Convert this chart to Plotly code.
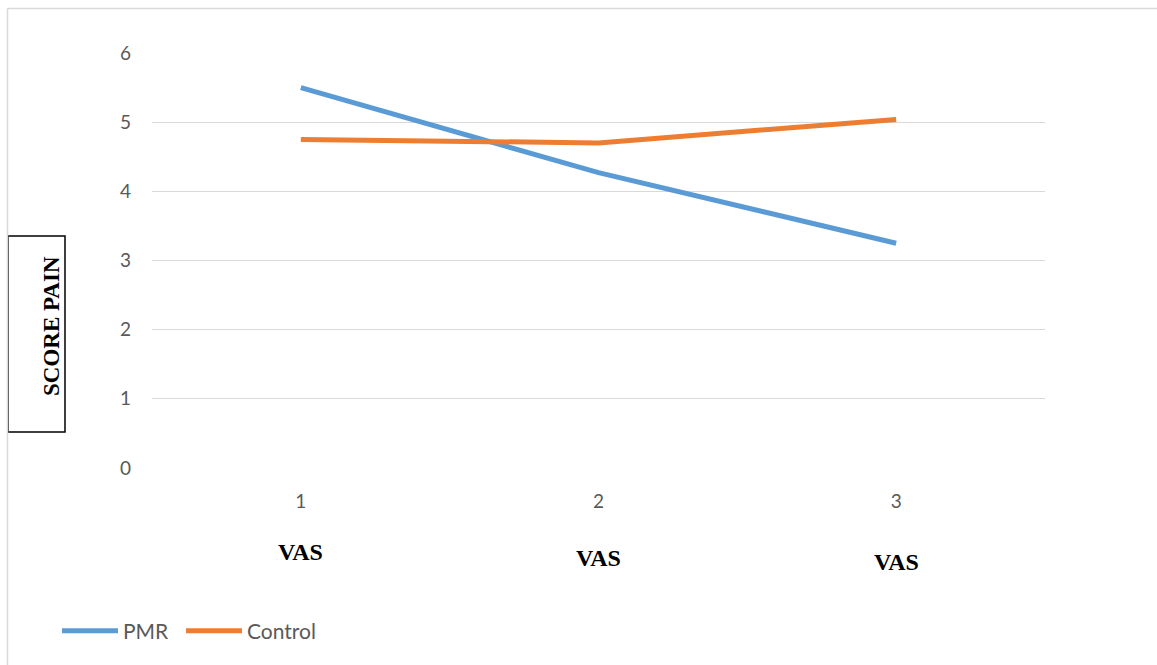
import plotly.graph_objects as go

categories = ["1", "2", "3"]
pmr = [5.5, 4.27, 3.25]
control = [4.75, 4.7, 5.04]
y_ticks = [0, 1, 2, 3, 4, 5, 6]
x_sub_labels = ["VAS", "VAS", "VAS"]

W, H = 1157, 665
L, R, T, B = 152, 112, 53, 197
pw, ph = W - L - R, H - T - B

def px_x(p):
    return (p - L) / pw

def px_y(p):
    return (H - B - p) / ph

fig = go.Figure()
fig.add_trace(go.Scatter(x=categories, y=pmr, mode="lines", name="PMR",
                         line=dict(color="#5B9BD5", width=5), legendwidth=53))
fig.add_trace(go.Scatter(x=categories, y=control, mode="lines", name="Control",
                         line=dict(color="#ED7D31", width=5), legendwidth=100))

gray = "#595959"
fig.update_layout(
    width=W, height=H,
    margin=dict(l=L, r=R, t=T, b=B),
    paper_bgcolor="white", plot_bgcolor="white",
    font=dict(family="Lato, Open Sans, sans-serif", color=gray, size=19),
    xaxis=dict(type="category", range=[-0.5, 2.5], showgrid=False, zeroline=False,
               showline=False, ticks="", tickfont=dict(size=19, color=gray),
               ticklabelstandoff=20),
    yaxis=dict(range=[0, 6], tickvals=y_ticks, showgrid=True, gridcolor="#D9D9D9",
               gridwidth=1.3, zeroline=False, showline=False, ticks="",
               tickfont=dict(size=19, color=gray), ticklabelstandoff=20),
    legend=dict(orientation="h", x=px_x(57), y=px_y(631), xanchor="left", yanchor="middle",
                font=dict(size=21, color=gray), itemwidth=56, tracegroupgap=0,
                bgcolor="rgba(0,0,0,0)"),
    showlegend=True,
)

# VAS labels under each category
vas_y = [552, 558, 562]
for i, (lab, py) in enumerate(zip(x_sub_labels, vas_y)):
    fig.add_annotation(x=i, xref="x", y=px_y(py), yref="paper", text="<b>" + lab + "</b>",
                       showarrow=False, font=dict(family="Liberation Serif, serif", size=24, color="black"),
                       xanchor="center", yanchor="middle")

# y-axis title in a box
fig.add_shape(type="rect", xref="paper", yref="paper",
              x0=px_x(8), x1=px_x(65), y0=px_y(432), y1=px_y(236),
              line=dict(color="black", width=1.5), fillcolor="white", layer="above")
fig.add_annotation(x=px_x(36.5), y=px_y(326), xref="paper", yref="paper",
                   text="<b>SCORE PAIN</b>", textangle=-90, showarrow=False,
                   font=dict(family="Liberation Serif, serif", size=23, color="black"))

# outer chart border (top and left visible)
fig.add_shape(type="line", xref="paper", yref="paper", x0=px_x(7.5), x1=px_x(1157),
              y0=px_y(8.5), y1=px_y(8.5), line=dict(color="#D9D9D9", width=1.5))
fig.add_shape(type="line", xref="paper", yref="paper", x0=px_x(7.5), x1=px_x(7.5),
              y0=px_y(8.5), y1=px_y(665), line=dict(color="#D9D9D9", width=1.5))

fig.write_html("out.html")
